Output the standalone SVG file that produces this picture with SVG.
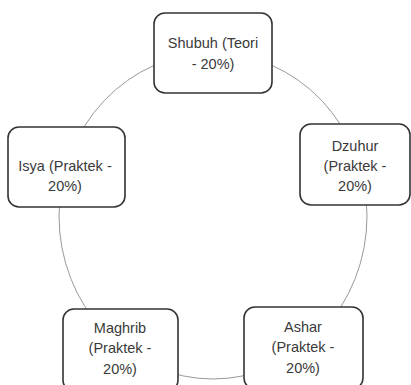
<svg xmlns="http://www.w3.org/2000/svg" width="411" height="385" viewBox="0 0 411 385">
<style>
.node rect{fill:#fff;stroke:#333;stroke-width:1.6}
.node text{font-family:"Liberation Sans",Arial,sans-serif;font-size:14.5px;fill:#3a3a3a;text-anchor:middle}
.conn{fill:none;stroke:#999;stroke-width:1}
</style>
<rect width="411" height="385" fill="#fff"/>
<g id="connectors">
<ellipse class="conn" cx="213" cy="216" rx="154" ry="163"/>
</g>
<g id="shubuh" class="node">
<rect x="154" y="13" width="118" height="80" rx="11"/>
<text x="213" y="48">Shubuh (Teori</text>
<text x="213" y="69">- 20%)</text>
</g>
<g id="dzuhur" class="node">
<rect x="300" y="124" width="110" height="81" rx="11"/>
<text x="355" y="151">Dzuhur</text>
<text x="355" y="171">(Praktek -</text>
<text x="355" y="191">20%)</text>
</g>
<g id="ashar" class="node">
<rect x="244" y="307" width="119" height="82" rx="11"/>
<text x="303" y="332">Ashar</text>
<text x="303" y="352">(Praktek -</text>
<text x="303" y="373">20%)</text>
</g>
<g id="maghrib" class="node">
<rect x="63" y="309" width="115" height="82" rx="11"/>
<text x="120" y="333">Maghrib</text>
<text x="120" y="353">(Praktek -</text>
<text x="120" y="374">20%)</text>
</g>
<g id="isya" class="node">
<rect x="8" y="127" width="117" height="80" rx="11"/>
<text x="65" y="171">Isya (Praktek -</text>
<text x="65" y="191">20%)</text>
</g>
</svg>
